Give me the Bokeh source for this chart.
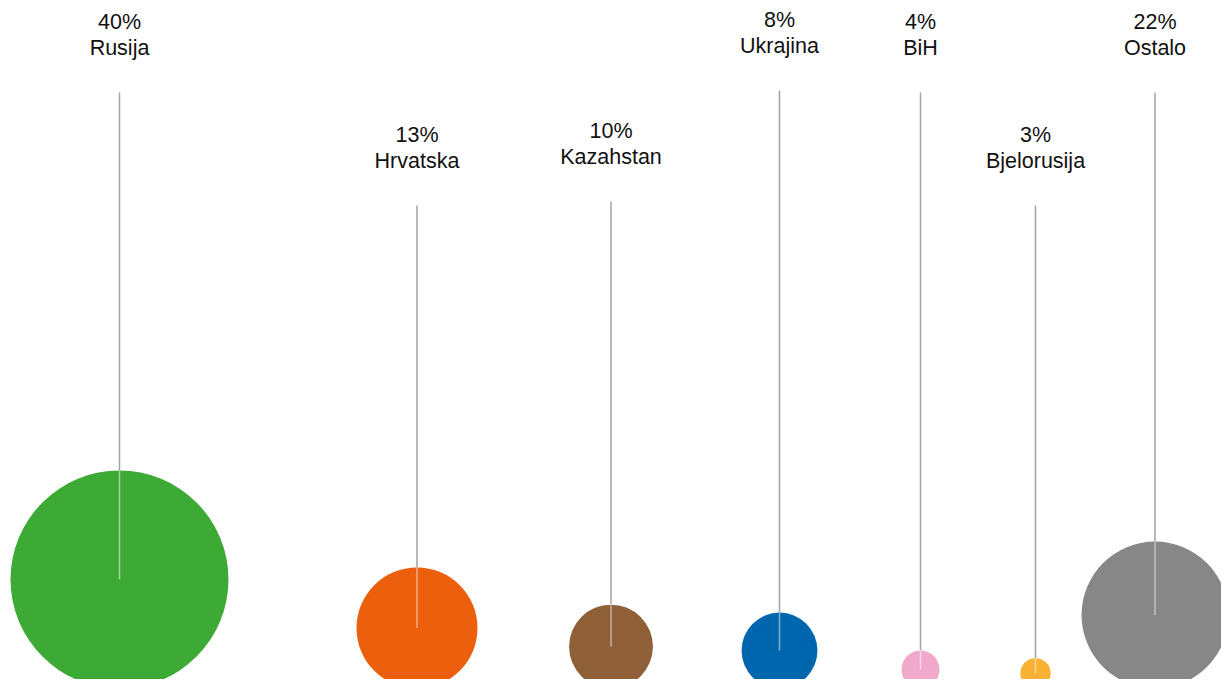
from bokeh.plotting import figure
from bokeh.models import Range1d, ColumnDataSource
from bokeh.embed import file_html
from bokeh.resources import INLINE
from bokeh.core.properties import value
import math

# ---- data ----
countries = ["Rusija", "Hrvatska", "Kazahstan", "Ukrajina", "BiH", "Bjelorusija", "Ostalo"]
shares = [40, 13, 10, 8, 4, 3, 22]
bubble_area = [118.8, 36.6, 17.6, 14.4, 3.6, 2.3, 54.0]   # relative bubble area
colors = ["#3DAA35", "#EC5F0D", "#8F5F38", "#0066AD", "#F0A9CB", "#F9B234", "#878787"]

# ---- layout (reference pixel coordinates) ----
x_center = [119, 416.5, 610.5, 779, 920, 1035, 1154.5]
label_pct_y = [29, 142, 138, 27, 29, 142, 29]
baseline = 688
radius_scale = 10.0
line_gap = 26
stem_gap = 63
text_nudge = -8

W, H = 1221, 679
p = figure(width=W, height=H, output_backend="svg", toolbar_location=None,
           x_range=Range1d(0, W), y_range=Range1d(H, 0),
           min_border=0, outline_line_color=None)
p.axis.visible = False
p.grid.visible = False
p.background_fill_color = "white"
p.border_fill_color = "white"

r = [radius_scale * math.sqrt(a) for a in bubble_area]
cy = [baseline - ri for ri in r]
top = [c - ri for c, ri in zip(cy, r)]
stem_top = [y + stem_gap for y in label_pct_y]

src = ColumnDataSource(dict(
    x=x_center, cy=cy, r=r, color=colors, top=top, stem_top=stem_top,
    pct=[f"{s}%" for s in shares], name=countries,
    pct_y=label_pct_y, name_y=[y + line_gap for y in label_pct_y],
))

p.segment(x0="x", y0="stem_top", x1="x", y1="top", source=src,
          line_color="#a3a3a3", line_width=1.5)
p.circle(x="x", y="cy", radius="r", source=src, fill_color="color", line_color=None)
p.segment(x0="x", y0="top", x1="x", y1="cy", source=src,
          line_color="white", line_alpha=0.5, line_width=1.5)

for col in ("pct", "name"):
    p.text(x="x", y=f"{col}_y", text=col, source=src, text_align="center",
           text_baseline="alphabetic", text_font=value("Liberation Sans"),
           text_font_size="21.5px", text_color="#111111", y_offset=text_nudge)

open("out.html", "w").write(file_html(p, INLINE))
